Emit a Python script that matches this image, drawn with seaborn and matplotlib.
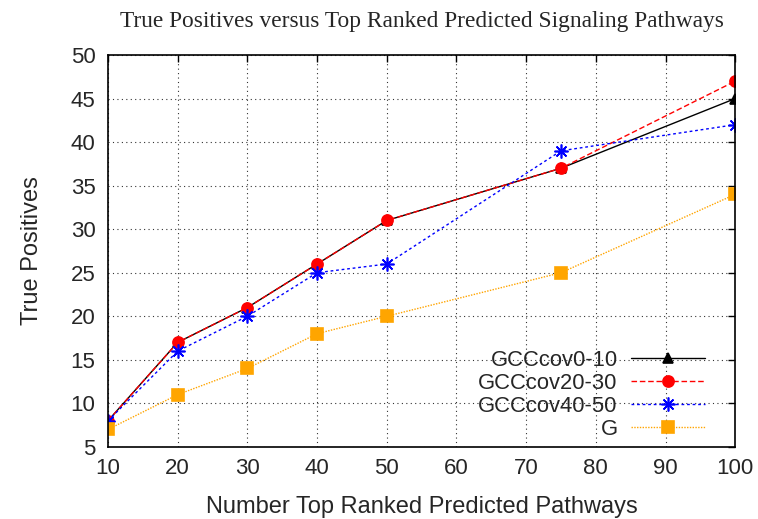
import matplotlib
matplotlib.use("Agg")
import matplotlib.pyplot as plt
import seaborn as sns
import pandas as pd

top_n = [10, 20, 30, 40, 50, 75, 100]
gcc_0_10 = [8, 17, 21, 26, 31, 37, 45]
gcc_20_30 = [8, 17, 21, 26, 31, 37, 47]
gcc_40_50 = [8, 16, 20, 25, 26, 39, 42]
g_base = [7, 11, 14, 18, 20, 25, 34]

series = [
    ("GCCcov0-10", gcc_0_10, "black", "-", "^", 7),
    ("GCCcov20-30", gcc_20_30, "red", (0, (4, 2)), "o", 8),
    ("GCCcov40-50", gcc_40_50, "blue", (0, (2, 2)), (8, 2, 0), 10),
    ("G", g_base, "orange", (0, (1, 1)), "s", 8),
]

sns.set_style("white")
plt.rcParams["font.family"] = ["Liberation Sans", "DejaVu Sans"]

fig = plt.figure(figsize=(7.58, 5.19), dpi=100)
ax = fig.add_axes([0.1425, 0.139, 0.8275, 0.755])

for name, vals, col, ls, mk, ms in series:
    df = pd.DataFrame({"x": top_n, "y": vals})
    sns.lineplot(data=df, x="x", y="y", ax=ax, color=col, linestyle=ls,
                 marker=mk, markersize=ms, markeredgecolor=col,
                 markeredgewidth=1.2, linewidth=1.0, label=name)

ax.set_xlim(10, 100)
ax.set_ylim(5, 50)
ax.set_xticks(range(10, 101, 10))
ax.set_yticks(range(5, 51, 5))
ax.grid(True, color="black", linestyle=(0, (1, 3)), linewidth=0.8, alpha=0.8)
ax.tick_params(direction="in", length=5, labelsize=16, top=True, right=True,
               color="black", width=1)
ax.tick_params(axis="y", pad=9)
ax.tick_params(axis="x", pad=8)
for sp in ax.spines.values():
    sp.set_color("black")
    sp.set_linewidth(1.2)

ax.set_xlabel("Number Top Ranked Predicted Pathways", fontsize=17, labelpad=12)
ax.set_ylabel("True Positives", fontsize=17, labelpad=20)
ax.set_title("True Positives versus Top Ranked Predicted Signaling Pathways",
             family=["Liberation Serif", "DejaVu Serif"], fontsize=16.8, pad=20)

leg = ax.legend(loc="lower right", bbox_to_anchor=(0.977, -0.022),
                frameon=False, markerfirst=False,
                fontsize=15.8, handlelength=3.4, labelspacing=0.1,
                borderaxespad=0.3, handletextpad=0.6)

fig.savefig("out.png", dpi=100)
